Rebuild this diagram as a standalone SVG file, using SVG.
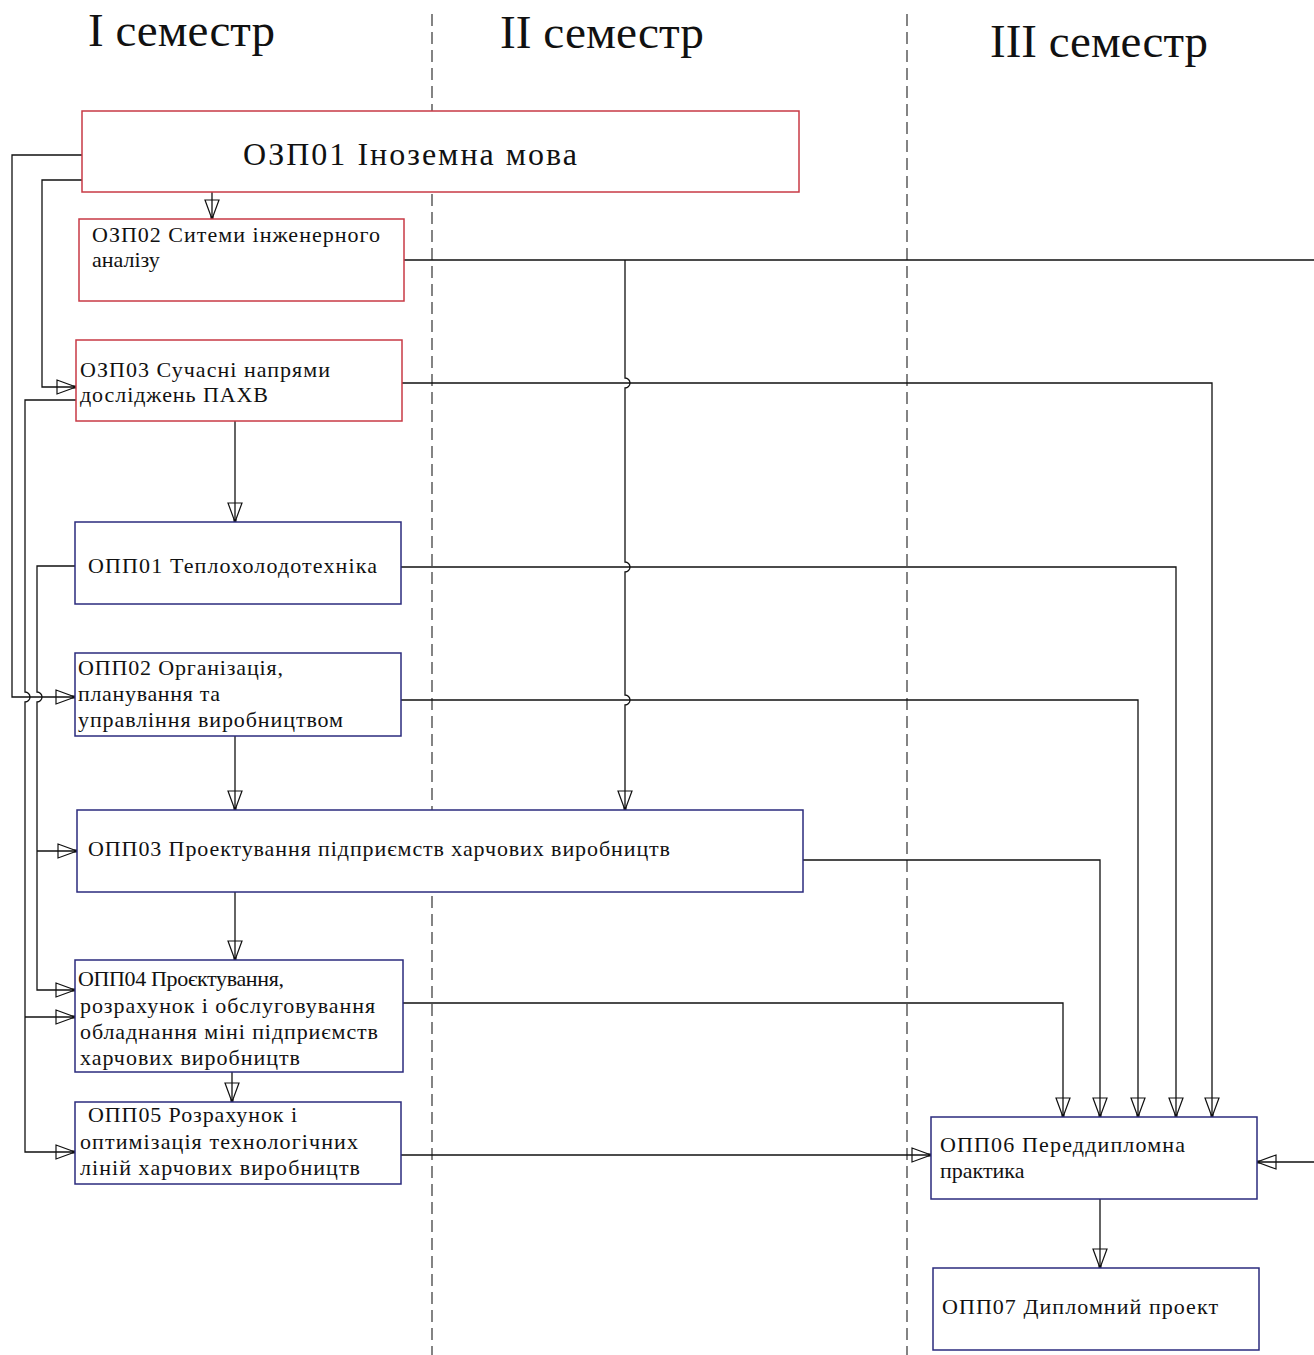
<svg xmlns="http://www.w3.org/2000/svg" width="1314" height="1355" viewBox="0 0 1314 1355">
<style>
.bg{fill:#fff}
.div{stroke:#333;stroke-width:1.2;stroke-dasharray:12 6;fill:none}
.red{fill:#fff;stroke:#c83a45;stroke-width:1.5}
.blue{fill:#fff;stroke:#2b2b7e;stroke-width:1.5}
.t{font-family:"Liberation Serif","Times New Roman",serif;font-size:22px;fill:#111}
.h{font-family:"Liberation Serif","Times New Roman",serif;font-size:46px;fill:#111}
.c{fill:none;stroke:#111;stroke-width:1.3}
</style>
<defs>
<marker id="arr" markerUnits="userSpaceOnUse" markerWidth="24" markerHeight="18" refX="22" refY="9" orient="auto" viewBox="0 0 24 18">
<path d="M3,2 L22,9 L3,16 Z" fill="none" stroke="#111" stroke-width="1.2"/>
<rect x="19" y="7.5" width="3" height="3" fill="#111"/>
</marker>
</defs>
<rect class="bg" x="0" y="0" width="1314" height="1355"/>
<g id="dividers">
<line class="div" x1="432" y1="14" x2="432" y2="1355"/>
<line class="div" x1="907" y1="14" x2="907" y2="1355"/>
</g>
<g id="headings">
<text class="h" x="88" y="46" textLength="187" lengthAdjust="spacingAndGlyphs">І семестр</text>
<text class="h" x="500" y="48" textLength="204" lengthAdjust="spacingAndGlyphs">ІІ семестр</text>
<text class="h" x="990" y="57" textLength="218" lengthAdjust="spacingAndGlyphs">ІІІ семестр</text>
</g>
<g id="connectors">
<path class="c" d="M82,155 H12 V697 H75" marker-end="url(#arr)"/>
<path class="c" d="M82,180 H42 V387 H76" marker-end="url(#arr)"/>
<path class="c" d="M76,400 H25 V692 A5,5 0 0 1 25,702 V1152 H75" marker-end="url(#arr)"/>
<path class="c" d="M25,1017 H75" marker-end="url(#arr)"/>
<path class="c" d="M75,566 H37 V692 A5,5 0 0 1 37,702 V990 H75" marker-end="url(#arr)"/>
<path class="c" d="M37,851 H77" marker-end="url(#arr)"/>
<path class="c" d="M404,260 H1316 V1162 H1257" marker-end="url(#arr)"/>
<path class="c" d="M625,260 V378 A5,5 0 0 1 625,388 V562 A5,5 0 0 1 625,572 V695 A5,5 0 0 1 625,705 V810" marker-end="url(#arr)"/>
<path class="c" d="M402,383 H1212 V1117" marker-end="url(#arr)"/>
<path class="c" d="M401,567 H1176 V1117" marker-end="url(#arr)"/>
<path class="c" d="M401,700 H1138 V1117" marker-end="url(#arr)"/>
<path class="c" d="M803,860 H1100 V1117" marker-end="url(#arr)"/>
<path class="c" d="M403,1003 H1063 V1117" marker-end="url(#arr)"/>
<path class="c" d="M401,1155 H931" marker-end="url(#arr)"/>
<path class="c" d="M212,192 V219" marker-end="url(#arr)"/>
<path class="c" d="M235,421 V522" marker-end="url(#arr)"/>
<path class="c" d="M235,736 V810" marker-end="url(#arr)"/>
<path class="c" d="M235,892 V960" marker-end="url(#arr)"/>
<path class="c" d="M232,1072 V1102" marker-end="url(#arr)"/>
<path class="c" d="M1100,1199 V1268" marker-end="url(#arr)"/>
</g>
<g id="ozp01">
<rect class="red" x="82" y="111" width="717" height="81"/>
<text class="t" x="243" y="165" style="font-size:32px" textLength="334" lengthAdjust="spacing">ОЗП01 Іноземна мова</text>
</g>
<g id="ozp02">
<rect class="red" x="79" y="219" width="325" height="82"/>
<text class="t" x="92" y="242" textLength="288" lengthAdjust="spacing">ОЗП02 Ситеми інженерного</text>
<text class="t" x="92" y="267">аналізу</text>
</g>
<g id="ozp03">
<rect class="red" x="76" y="340" width="326" height="81"/>
<text class="t" x="80" y="377" textLength="250" lengthAdjust="spacing">ОЗП03 Сучасні напрями</text>
<text class="t" x="80" y="402" textLength="188" lengthAdjust="spacing">досліджень ПАХВ</text>
</g>
<g id="opp01">
<rect class="blue" x="75" y="522" width="326" height="82"/>
<text class="t" x="88" y="573" textLength="289" lengthAdjust="spacing">ОПП01 Теплохолодотехніка</text>
</g>
<g id="opp02">
<rect class="blue" x="75" y="653" width="326" height="83"/>
<text class="t" x="78" y="675" textLength="205" lengthAdjust="spacing">ОПП02 Організація,</text>
<text class="t" x="78" y="701" textLength="142" lengthAdjust="spacing">планування та</text>
<text class="t" x="78" y="727" textLength="265" lengthAdjust="spacing">управління виробництвом</text>
</g>
<g id="opp03">
<rect class="blue" x="77" y="810" width="726" height="82"/>
<text class="t" x="88" y="856" textLength="582" lengthAdjust="spacing">ОПП03 Проектування підприємств харчових виробництв</text>
</g>
<g id="opp04">
<rect class="blue" x="75" y="960" width="328" height="112"/>
<text class="t" x="78" y="986" textLength="206" lengthAdjust="spacing">ОПП04 Проєктування,</text>
<text class="t" x="80" y="1013" textLength="295" lengthAdjust="spacing">розрахунок і обслуговування</text>
<text class="t" x="80" y="1039" textLength="298" lengthAdjust="spacing">обладнання міні підприємств</text>
<text class="t" x="80" y="1065" textLength="220" lengthAdjust="spacing">харчових виробництв</text>
</g>
<g id="opp05">
<rect class="blue" x="75" y="1102" width="326" height="82"/>
<text class="t" x="88" y="1122" textLength="209" lengthAdjust="spacing">ОПП05 Розрахунок і</text>
<text class="t" x="80" y="1149" textLength="278" lengthAdjust="spacing">оптимізація технологічних</text>
<text class="t" x="80" y="1175" textLength="280" lengthAdjust="spacing">ліній харчових виробництв</text>
</g>
<g id="opp06">
<rect class="blue" x="931" y="1117" width="326" height="82"/>
<text class="t" x="940" y="1152" textLength="245" lengthAdjust="spacing">ОПП06 Переддипломна</text>
<text class="t" x="940" y="1178">практика</text>
</g>
<g id="opp07">
<rect class="blue" x="933" y="1268" width="326" height="82"/>
<text class="t" x="942" y="1314" textLength="276" lengthAdjust="spacing">ОПП07 Дипломний проект</text>
</g>
</svg>
